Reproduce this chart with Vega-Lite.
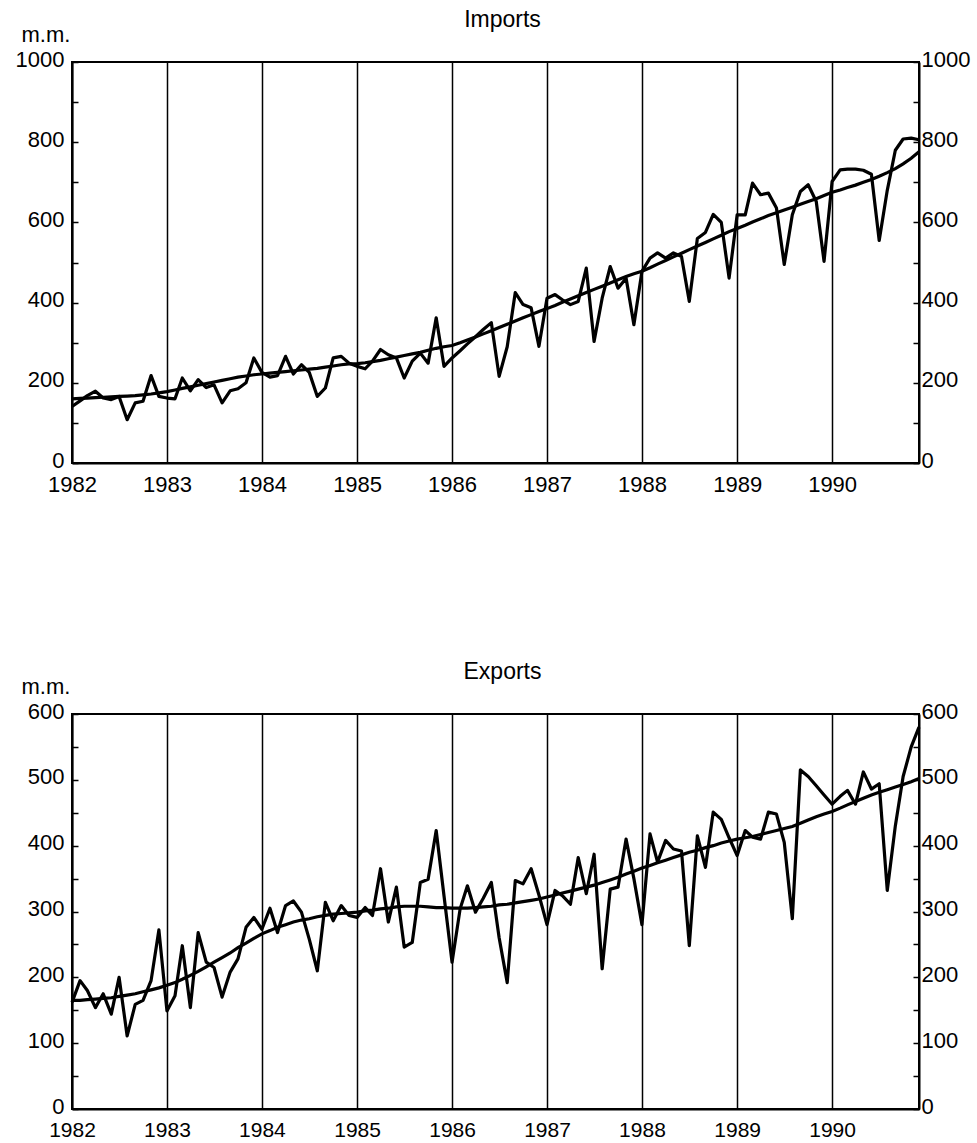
{
  "$schema": "https://vega.github.io/schema/vega-lite/v6.json",
  "background": "white",
  "padding": {"left": 14, "top": 8, "right": 5, "bottom": 0},
  "config": {
    "font": "Liberation Sans",
    "view": {"stroke": "black", "strokeWidth": 2},
    "axis": {
      "labelFont": "Liberation Sans", "labelFontSize": 22, "labelColor": "black",
      "titleFont": "Liberation Sans", "titleFontSize": 22, "titleFontWeight": "normal", "titleColor": "black",
      "domainColor": "black", "domainWidth": 2, "tickColor": "black", "tickWidth": 1.5,
      "gridColor": "black", "gridOpacity": 1, "labelFlush": false, "labelOverlap": false
    },
    "title": {"font": "Liberation Sans", "fontSize": 23, "fontWeight": "normal", "color": "black"}
  },
  "data": {"values": [
    {"d":"1982-01-01","imp":141,"impT":160,"exp":162,"expT":165},
    {"d":"1982-02-01","imp":155,"impT":161,"exp":195,"expT":165},
    {"d":"1982-03-01","imp":168,"impT":162,"exp":180,"expT":166},
    {"d":"1982-04-01","imp":179,"impT":163,"exp":154,"expT":167},
    {"d":"1982-05-01","imp":162,"impT":164,"exp":175,"expT":168},
    {"d":"1982-06-01","imp":158,"impT":165,"exp":144,"expT":169},
    {"d":"1982-07-01","imp":166,"impT":166,"exp":200,"expT":171},
    {"d":"1982-08-01","imp":108,"impT":167,"exp":111,"expT":173},
    {"d":"1982-09-01","imp":150,"impT":168,"exp":159,"expT":175},
    {"d":"1982-10-01","imp":154,"impT":170,"exp":165,"expT":178},
    {"d":"1982-11-01","imp":218,"impT":172,"exp":195,"expT":181},
    {"d":"1982-12-01","imp":166,"impT":175,"exp":272,"expT":184},
    {"d":"1983-01-01","imp":162,"impT":178,"exp":149,"expT":188},
    {"d":"1983-02-01","imp":160,"impT":182,"exp":172,"expT":192},
    {"d":"1983-03-01","imp":212,"impT":186,"exp":248,"expT":197},
    {"d":"1983-04-01","imp":180,"impT":190,"exp":154,"expT":203},
    {"d":"1983-05-01","imp":208,"impT":194,"exp":268,"expT":209},
    {"d":"1983-06-01","imp":188,"impT":198,"exp":223,"expT":216},
    {"d":"1983-07-01","imp":195,"impT":202,"exp":215,"expT":223},
    {"d":"1983-08-01","imp":150,"impT":206,"exp":170,"expT":230},
    {"d":"1983-09-01","imp":180,"impT":210,"exp":208,"expT":237},
    {"d":"1983-10-01","imp":185,"impT":214,"exp":228,"expT":245},
    {"d":"1983-11-01","imp":200,"impT":217,"exp":276,"expT":252},
    {"d":"1983-12-01","imp":262,"impT":220,"exp":291,"expT":259},
    {"d":"1984-01-01","imp":226,"impT":222,"exp":273,"expT":266},
    {"d":"1984-02-01","imp":214,"impT":224,"exp":305,"expT":271},
    {"d":"1984-03-01","imp":218,"impT":226,"exp":268,"expT":276},
    {"d":"1984-04-01","imp":266,"impT":228,"exp":309,"expT":280},
    {"d":"1984-05-01","imp":222,"impT":230,"exp":316,"expT":284},
    {"d":"1984-06-01","imp":245,"impT":232,"exp":299,"expT":287},
    {"d":"1984-07-01","imp":226,"impT":234,"exp":258,"expT":289},
    {"d":"1984-08-01","imp":166,"impT":236,"exp":210,"expT":292},
    {"d":"1984-09-01","imp":187,"impT":239,"exp":314,"expT":294},
    {"d":"1984-10-01","imp":262,"impT":242,"exp":286,"expT":296},
    {"d":"1984-11-01","imp":266,"impT":245,"exp":309,"expT":297},
    {"d":"1984-12-01","imp":249,"impT":247,"exp":294,"expT":298},
    {"d":"1985-01-01","imp":241,"impT":248,"exp":291,"expT":299},
    {"d":"1985-02-01","imp":235,"impT":250,"exp":306,"expT":301},
    {"d":"1985-03-01","imp":254,"impT":253,"exp":294,"expT":302},
    {"d":"1985-04-01","imp":283,"impT":256,"exp":365,"expT":304},
    {"d":"1985-05-01","imp":270,"impT":260,"exp":284,"expT":305},
    {"d":"1985-06-01","imp":262,"impT":264,"exp":337,"expT":307},
    {"d":"1985-07-01","imp":212,"impT":268,"exp":246,"expT":308},
    {"d":"1985-08-01","imp":254,"impT":272,"exp":253,"expT":308},
    {"d":"1985-09-01","imp":274,"impT":276,"exp":344,"expT":308},
    {"d":"1985-10-01","imp":249,"impT":281,"exp":349,"expT":307},
    {"d":"1985-11-01","imp":362,"impT":286,"exp":423,"expT":306},
    {"d":"1985-12-01","imp":241,"impT":290,"exp":324,"expT":306},
    {"d":"1986-01-01","imp":262,"impT":293,"exp":223,"expT":305},
    {"d":"1986-02-01","imp":280,"impT":300,"exp":304,"expT":305},
    {"d":"1986-03-01","imp":297,"impT":307,"exp":339,"expT":305},
    {"d":"1986-04-01","imp":315,"impT":314,"exp":299,"expT":306},
    {"d":"1986-05-01","imp":333,"impT":322,"exp":320,"expT":307},
    {"d":"1986-06-01","imp":350,"impT":330,"exp":344,"expT":308},
    {"d":"1986-07-01","imp":216,"impT":338,"exp":260,"expT":310},
    {"d":"1986-08-01","imp":290,"impT":346,"exp":192,"expT":311},
    {"d":"1986-09-01","imp":425,"impT":354,"exp":347,"expT":313},
    {"d":"1986-10-01","imp":395,"impT":362,"exp":342,"expT":315},
    {"d":"1986-11-01","imp":387,"impT":370,"exp":365,"expT":317},
    {"d":"1986-12-01","imp":291,"impT":378,"exp":325,"expT":319},
    {"d":"1987-01-01","imp":411,"impT":385,"exp":280,"expT":322},
    {"d":"1987-02-01","imp":420,"impT":393,"exp":332,"expT":325},
    {"d":"1987-03-01","imp":407,"impT":401,"exp":324,"expT":328},
    {"d":"1987-04-01","imp":395,"impT":409,"exp":311,"expT":331},
    {"d":"1987-05-01","imp":403,"impT":417,"exp":382,"expT":334},
    {"d":"1987-06-01","imp":486,"impT":425,"exp":327,"expT":337},
    {"d":"1987-07-01","imp":303,"impT":433,"exp":387,"expT":340},
    {"d":"1987-08-01","imp":411,"impT":441,"exp":213,"expT":344},
    {"d":"1987-09-01","imp":490,"impT":449,"exp":334,"expT":348},
    {"d":"1987-10-01","imp":436,"impT":457,"exp":337,"expT":352},
    {"d":"1987-11-01","imp":461,"impT":465,"exp":410,"expT":357},
    {"d":"1987-12-01","imp":345,"impT":472,"exp":350,"expT":361},
    {"d":"1988-01-01","imp":478,"impT":478,"exp":280,"expT":366},
    {"d":"1988-02-01","imp":511,"impT":487,"exp":418,"expT":370},
    {"d":"1988-03-01","imp":524,"impT":496,"exp":375,"expT":374},
    {"d":"1988-04-01","imp":511,"impT":505,"exp":408,"expT":378},
    {"d":"1988-05-01","imp":524,"impT":514,"exp":395,"expT":382},
    {"d":"1988-06-01","imp":515,"impT":523,"exp":392,"expT":386},
    {"d":"1988-07-01","imp":403,"impT":532,"exp":248,"expT":390},
    {"d":"1988-08-01","imp":560,"impT":541,"exp":415,"expT":393},
    {"d":"1988-09-01","imp":575,"impT":550,"exp":367,"expT":397},
    {"d":"1988-10-01","imp":620,"impT":559,"exp":451,"expT":400},
    {"d":"1988-11-01","imp":600,"impT":568,"exp":440,"expT":404},
    {"d":"1988-12-01","imp":461,"impT":577,"exp":412,"expT":407},
    {"d":"1989-01-01","imp":619,"impT":585,"exp":385,"expT":410},
    {"d":"1989-02-01","imp":619,"impT":593,"exp":423,"expT":412},
    {"d":"1989-03-01","imp":698,"impT":601,"exp":413,"expT":414},
    {"d":"1989-04-01","imp":669,"impT":609,"exp":410,"expT":417},
    {"d":"1989-05-01","imp":673,"impT":617,"exp":451,"expT":420},
    {"d":"1989-06-01","imp":636,"impT":624,"exp":448,"expT":423},
    {"d":"1989-07-01","imp":495,"impT":631,"exp":405,"expT":426},
    {"d":"1989-08-01","imp":619,"impT":638,"exp":289,"expT":429},
    {"d":"1989-09-01","imp":677,"impT":645,"exp":515,"expT":434},
    {"d":"1989-10-01","imp":694,"impT":652,"exp":505,"expT":439},
    {"d":"1989-11-01","imp":652,"impT":659,"exp":491,"expT":444},
    {"d":"1989-12-01","imp":503,"impT":667,"exp":477,"expT":448},
    {"d":"1990-01-01","imp":702,"impT":675,"exp":463,"expT":452},
    {"d":"1990-02-01","imp":731,"impT":681,"exp":475,"expT":457},
    {"d":"1990-03-01","imp":733,"impT":687,"exp":484,"expT":462},
    {"d":"1990-04-01","imp":733,"impT":693,"exp":463,"expT":467},
    {"d":"1990-05-01","imp":730,"impT":700,"exp":512,"expT":472},
    {"d":"1990-06-01","imp":720,"impT":707,"exp":486,"expT":477},
    {"d":"1990-07-01","imp":555,"impT":715,"exp":494,"expT":481},
    {"d":"1990-08-01","imp":680,"impT":724,"exp":332,"expT":485},
    {"d":"1990-09-01","imp":780,"impT":734,"exp":430,"expT":489},
    {"d":"1990-10-01","imp":808,"impT":746,"exp":505,"expT":493},
    {"d":"1990-11-01","imp":810,"impT":760,"exp":550,"expT":497},
    {"d":"1990-12-01","imp":806,"impT":776,"exp":580,"expT":502}
  ]},
  "spacing": 164,
  "vconcat": [
    {
      "width": 847, "height": 401,
      "title": {"text": "Imports", "dx": 7, "offset": -9},
      "encoding": {
        "x": {"field": "d", "type": "temporal",
          "scale": {"type": "utc", "domain": [{"year": 1982, "month": 1, "date": 1, "utc": true}, {"year": 1990, "month": 12, "date": 1, "utc": true}]},
          "axis": {"title": null, "format": "%Y", "formatType": "utc", "grid": true, "gridWidth": 1.5, "ticks": false, "labelPadding": 11, "tickCount": {"interval": "year", "step": 1}}}
      },
      "layer": [
        {
          "mark": {"type": "line", "color": "black", "strokeWidth": 3.2, "strokeJoin": "round"},
          "encoding": {
            "y": {"field": "imp", "type": "quantitative", "scale": {"domain": [0, 1000], "nice": false},
              "axis": {"orient": "left", "grid": false, "format": "d", "values": [0,100,200,300,400,500,600,700,800,900,1000],
                "labelExpr": "datum.value % 200 === 0 ? datum.label : ''", "tickSize": -6, "labelPadding": 14, "labelOffset": -3,
                "title": "m.m.", "titleAngle": 0, "titleAlign": "left", "titleBaseline": "alphabetic", "titleX": -51, "titleY": -21}}
          }
        },
        {
          "mark": {"type": "line", "color": "black", "strokeWidth": 3.2},
          "encoding": {
            "y": {"field": "impT", "type": "quantitative",
              "axis": {"orient": "right", "grid": false, "title": null, "format": "d", "values": [0,100,200,300,400,500,600,700,800,900,1000],
                "labelExpr": "datum.value % 200 === 0 ? datum.label : ''", "tickSize": -6, "labelPadding": 8, "labelOffset": -3}}
          }
        }
      ],
      "resolve": {"axis": {"y": "independent"}}
    },
    {
      "width": 847, "height": 395,
      "title": {"text": "Exports", "dx": 7, "offset": -9},
      "encoding": {
        "x": {"field": "d", "type": "temporal",
          "scale": {"type": "utc", "domain": [{"year": 1982, "month": 1, "date": 1, "utc": true}, {"year": 1990, "month": 12, "date": 1, "utc": true}]},
          "axis": {"title": null, "format": "%Y", "formatType": "utc", "grid": true, "gridWidth": 1.5, "ticks": false, "labelPadding": 10, "labelFontSize": 21, "tickCount": {"interval": "year", "step": 1}}}
      },
      "layer": [
        {
          "mark": {"type": "line", "color": "black", "strokeWidth": 3.2, "strokeJoin": "round"},
          "encoding": {
            "y": {"field": "exp", "type": "quantitative", "scale": {"domain": [0, 600], "nice": false},
              "axis": {"orient": "left", "grid": false, "format": "d", "values": [0,50,100,150,200,250,300,350,400,450,500,550,600],
                "labelExpr": "datum.value % 100 === 0 ? datum.label : ''", "tickSize": -6, "labelPadding": 14, "labelOffset": -3,
                "title": "m.m.", "titleAngle": 0, "titleAlign": "left", "titleBaseline": "alphabetic", "titleX": -51, "titleY": -21}}
          }
        },
        {
          "mark": {"type": "line", "color": "black", "strokeWidth": 3.2},
          "encoding": {
            "y": {"field": "expT", "type": "quantitative",
              "axis": {"orient": "right", "grid": false, "title": null, "format": "d", "values": [0,50,100,150,200,250,300,350,400,450,500,550,600],
                "labelExpr": "datum.value % 100 === 0 ? datum.label : ''", "tickSize": -6, "labelPadding": 8, "labelOffset": -3}}
          }
        }
      ],
      "resolve": {"axis": {"y": "independent"}}
    }
  ]
}
